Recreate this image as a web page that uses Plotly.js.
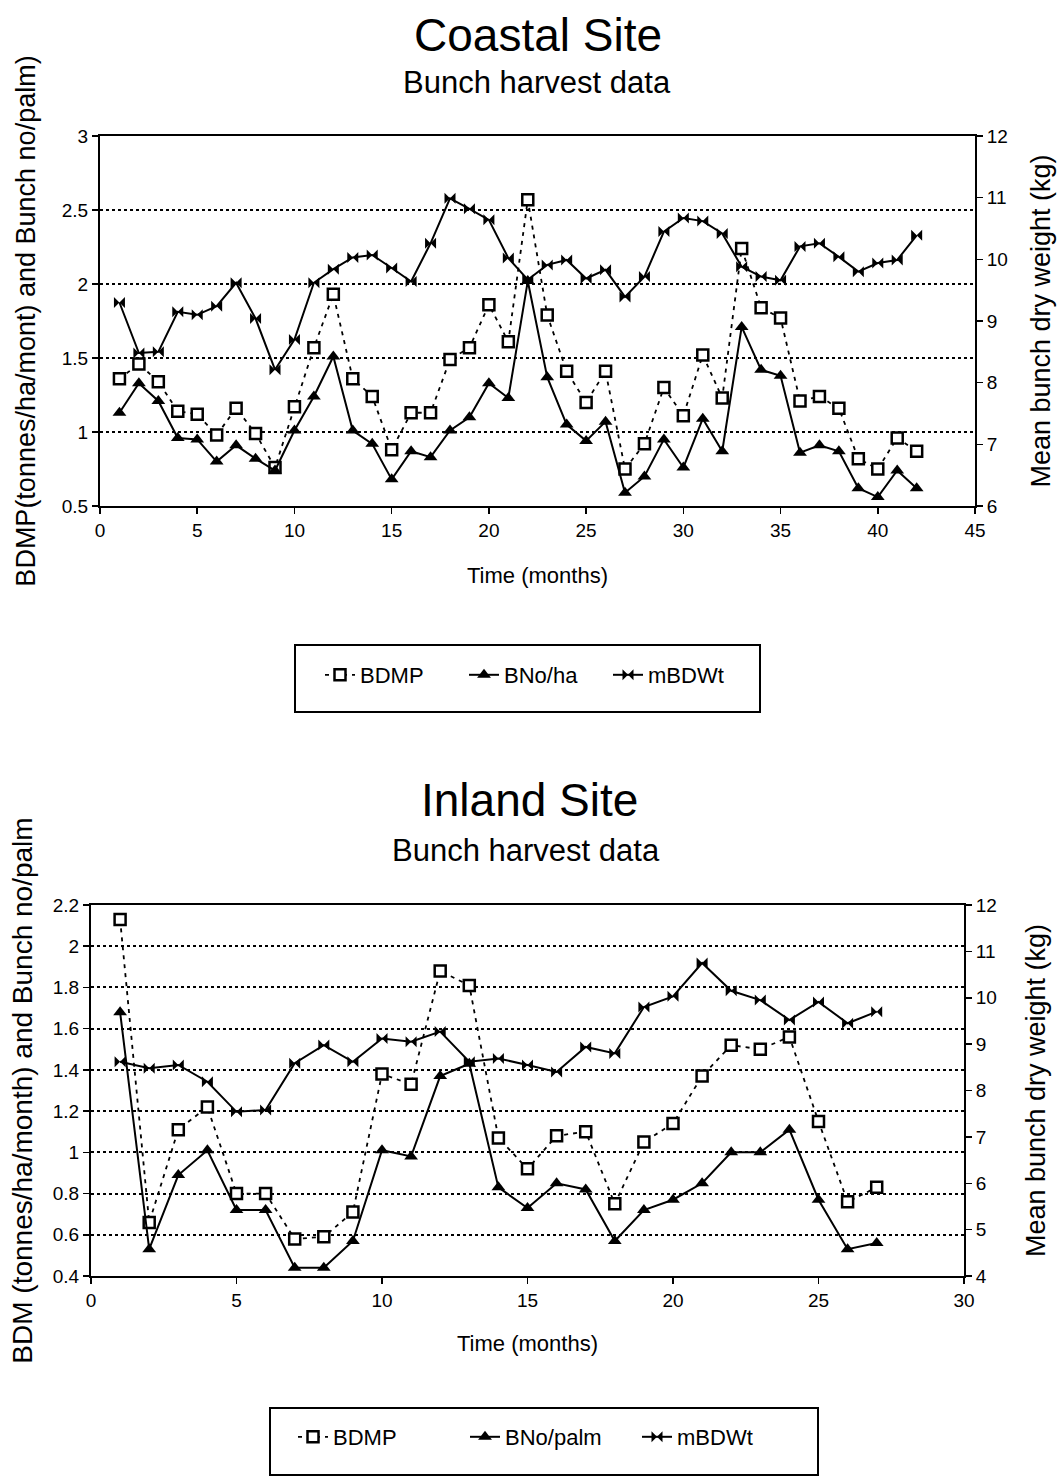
<!DOCTYPE html>
<html>
<head>
<meta charset="utf-8">
<script src="https://cdn.plot.ly/plotly-3.0.1.min.js"></script>
<style>html,body{margin:0;padding:0;background:#fff}#chart{width:1061px;height:1478px}</style>
</head>
<body>
<div id="chart"></div>
<script>
// ---------- Coastal site data ----------
const coastalMonths = [1,2,3,4,5,6,7,8,9,10,11,12,13,14,15,16,17,18,19,20,21,22,23,24,25,26,27,28,29,30,31,32,33,34,35,36,37,38,39,40,41,42];
const coastalBDMP = [1.36,1.46,1.34,1.14,1.12,0.98,1.16,0.99,0.76,1.17,1.57,1.93,1.36,1.24,0.88,1.13,1.13,1.49,1.57,1.86,1.61,2.57,1.79,1.41,1.20,1.41,0.75,0.92,1.30,1.11,1.52,1.23,2.24,1.84,1.77,1.21,1.24,1.16,0.82,0.75,0.96,0.87];
const coastalBNo = [1.13,1.33,1.21,0.96,0.95,0.80,0.91,0.82,0.74,1.01,1.24,1.51,1.01,0.92,0.68,0.87,0.83,1.01,1.10,1.33,1.23,2.02,1.37,1.05,0.94,1.07,0.59,0.70,0.95,0.76,1.09,0.87,1.71,1.42,1.38,0.86,0.91,0.87,0.62,0.56,0.74,0.62];
const coastalMBDWt = [9.30,8.48,8.50,9.15,9.10,9.24,9.62,9.04,8.21,8.70,9.62,9.84,10.03,10.07,9.86,9.64,10.26,10.99,10.82,10.64,10.02,9.67,9.91,9.99,9.69,9.83,9.39,9.72,10.45,10.67,10.62,10.42,9.88,9.72,9.66,10.21,10.26,10.04,9.80,9.94,9.99,10.39];

// ---------- Inland site data ----------
const inlandMonths = [1,2,3,4,5,6,7,8,9,10,11,12,13,14,15,16,17,18,19,20,21,22,23,24,25,26,27];
const inlandBDMP = [2.13,0.66,1.11,1.22,0.80,0.80,0.58,0.59,0.71,1.38,1.33,1.88,1.81,1.07,0.92,1.08,1.10,0.75,1.05,1.14,1.37,1.52,1.50,1.56,1.15,0.76,0.83];
const inlandBNo = [1.68,0.53,0.89,1.01,0.72,0.72,0.44,0.44,0.57,1.01,0.98,1.37,1.43,0.83,0.73,0.85,0.82,0.57,0.72,0.77,0.85,1.00,1.00,1.11,0.77,0.53,0.56];
const inlandMBDWt = [8.62,8.48,8.55,8.19,7.54,7.58,8.59,8.98,8.62,9.12,9.05,9.27,8.62,8.69,8.55,8.40,8.94,8.80,9.80,10.03,10.75,10.15,9.95,9.52,9.91,9.45,9.70];

const W = 1061, H = 1478;
const FONT = '"Liberation Sans", Arial, sans-serif';
function xd(a,b){return [a/W, b/W];}
function yd(top,bottom){return [1-bottom/H, 1-top/H];}

const bdmpStyle = {mode:'lines+markers', line:{color:'black', width:1.8, dash:'4px,5px'},
  marker:{symbol:'square', size:11, color:'white', line:{color:'black', width:2.5}}};
const bnoStyle = {mode:'lines+markers', line:{color:'black', width:2},
  marker:{symbol:'triangle-up', size:12, color:'black'}};
const mbdStyle = {mode:'lines+markers', line:{color:'black', width:2},
  marker:{symbol:'bowtie', size:11, color:'black'}};

const traces = [
  Object.assign({x:coastalMonths, y:coastalBDMP, name:'BDMP', xaxis:'x', yaxis:'y', legend:'legend'}, bdmpStyle),
  Object.assign({x:coastalMonths, y:coastalBNo, name:'BNo/ha', xaxis:'x', yaxis:'y', legend:'legend'}, bnoStyle),
  Object.assign({x:coastalMonths, y:coastalMBDWt, name:'mBDWt', xaxis:'x', yaxis:'y2', legend:'legend'}, mbdStyle),
  Object.assign({x:inlandMonths, y:inlandBDMP, name:'BDMP', xaxis:'x2', yaxis:'y3', legend:'legend2'}, bdmpStyle),
  Object.assign({x:inlandMonths, y:inlandBNo, name:'BNo/palm', xaxis:'x2', yaxis:'y3', legend:'legend2'}, bnoStyle),
  Object.assign({x:inlandMonths, y:inlandMBDWt, name:'mBDWt', xaxis:'x2', yaxis:'y4', legend:'legend2'}, mbdStyle)
];

const axBase = {showline:true, linecolor:'black', linewidth:2, ticks:'outside', ticklen:6, tickwidth:1.5,
  tickcolor:'black', zeroline:false, automargin:false, tickfont:{family:FONT, size:19, color:'black'}};
const gridY = {showgrid:true, gridcolor:'black', griddash:'dot', gridwidth:2};

const layout = {
  width:W, height:H, margin:{l:0, r:0, t:0, b:0},
  paper_bgcolor:'white', plot_bgcolor:'white',
  font:{family:FONT, color:'black'},
  xaxis: Object.assign({}, axBase, {domain:xd(100,975), anchor:'y', range:[0,45], dtick:5, tick0:0, mirror:true, showgrid:false,
    title:{text:'Time (months)', font:{family:FONT, size:22}, standoff:28}}),
  yaxis: Object.assign({}, axBase, gridY, {domain:yd(136,506), anchor:'x', range:[0.5,3], dtick:0.5, tick0:0.5,
    title:{text:'BDMP(tonnes/ha/mont) and Bunch no/palm)', font:{family:FONT, size:27}, standoff:18}}),
  yaxis2: Object.assign({}, axBase, {overlaying:'y', anchor:'x', side:'right', range:[6,12], dtick:1, tick0:6, showgrid:false,
    title:{text:'Mean bunch dry weight (kg)', font:{family:FONT, size:27}, standoff:24}}),
  xaxis2: Object.assign({}, axBase, {domain:xd(91,964), anchor:'y3', range:[0,30], dtick:5, tick0:0, mirror:true, showgrid:false,
    title:{text:'Time (months)', font:{family:FONT, size:22}, standoff:26}}),
  yaxis3: Object.assign({}, axBase, gridY, {domain:yd(905,1276), anchor:'x2', range:[0.4,2.2], dtick:0.2, tick0:0.4,
    title:{text:'BDM (tonnes/ha/month) and Bunch no/palm', font:{family:FONT, size:28}, standoff:12}}),
  yaxis4: Object.assign({}, axBase, {overlaying:'y3', anchor:'x2', side:'right', range:[4,12], dtick:1, tick0:4, showgrid:false,
    title:{text:'Mean bunch dry weight (kg)', font:{family:FONT, size:27}, standoff:30}}),
  legend: {orientation:'h', x:320/W, y:1-654/H, xanchor:'left', yanchor:'top', bgcolor:'rgba(0,0,0,0)',
    borderwidth:0, entrywidth:99, entrywidthmode:'pixels', font:{family:FONT, size:22}},
  legend2: {orientation:'h', x:293/W, y:1-1416/H, xanchor:'left', yanchor:'top', bgcolor:'rgba(0,0,0,0)',
    borderwidth:0, entrywidth:127, entrywidthmode:'pixels', font:{family:FONT, size:22}},
  shapes: [
    {type:'rect', xref:'paper', yref:'paper', x0:295/W, x1:760/W, y0:1-712/H, y1:1-645/H, line:{color:'black', width:2}},
    {type:'rect', xref:'paper', yref:'paper', x0:270/W, x1:818/W, y0:1-1475/H, y1:1-1408/H, line:{color:'black', width:2}}
  ],
  annotations: [
    {text:'Coastal Site', xref:'paper', yref:'paper', x:538/W, y:1-35/H, showarrow:false, xanchor:'center', yanchor:'middle', font:{family:FONT, size:46}},
    {text:'Bunch harvest data', xref:'paper', yref:'paper', x:537/W, y:1-83/H, showarrow:false, xanchor:'center', yanchor:'middle', font:{family:FONT, size:31}},
    {text:'Inland Site', xref:'paper', yref:'paper', x:529/W, y:1-800/H, showarrow:false, xanchor:'center', yanchor:'middle', font:{family:FONT, size:46}},
    {text:'Bunch harvest data', xref:'paper', yref:'paper', x:526/W, y:1-850/H, showarrow:false, xanchor:'center', yanchor:'middle', font:{family:FONT, size:31}}
  ]
};

Plotly.newPlot('chart', traces, layout, {displayModeBar:false, staticPlot:true});
</script>
</body>
</html>
